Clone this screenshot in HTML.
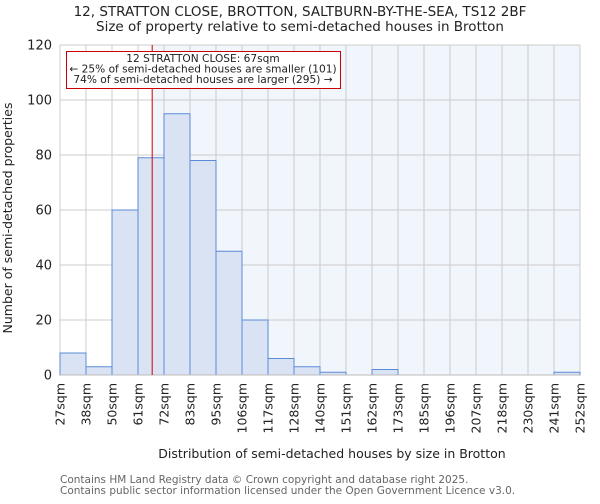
<!DOCTYPE html>
<html><head><meta charset="utf-8"><style>
body{margin:0;background:#fff;font-family:"DejaVu Sans","Liberation Sans",sans-serif;}
</style></head><body>
<svg width="600" height="500" xmlns="http://www.w3.org/2000/svg" font-family="DejaVu Sans, Liberation Sans, sans-serif">
<text x="300" y="12" text-anchor="middle" font-size="13.5" fill="#222" dominant-baseline="middle">12, STRATTON CLOSE, BROTTON, SALTBURN-BY-THE-SEA, TS12 2BF</text>
<text x="300" y="27" text-anchor="middle" font-size="13.5" fill="#222" dominant-baseline="middle">Size of property relative to semi-detached houses in Brotton</text>
<g id="plot"></g>
<text x="332" y="458" text-anchor="middle" font-size="12.5" fill="#222">Distribution of semi-detached houses by size in Brotton</text>
<text transform="translate(12,218) rotate(-90)" text-anchor="middle" font-size="12.5" fill="#222">Number of semi-detached properties</text>
<text x="60" y="483" font-size="10.5" fill="#666">Contains HM Land Registry data © Crown copyright and database right 2025.</text>
<text x="60" y="494" font-size="10.5" fill="#666">Contains public sector information licensed under the Open Government Licence v3.0.</text>
</svg>
<script>
const tickLabels=["27sqm","38sqm","50sqm","61sqm","72sqm","83sqm","95sqm","106sqm","117sqm","128sqm","140sqm","151sqm","162sqm","173sqm","185sqm","196sqm","207sqm","218sqm","230sqm","241sqm","252sqm"];
const counts=[8,3,60,79,95,78,45,20,6,3,1,0,2,0,0,0,0,0,0,1];
const yTicks=[0,20,40,60,80,100,120];
const propertyBinPos=3+6/11;
const NS="http://www.w3.org/2000/svg";
const X0=60,X1=580,Y0=375,Y1=45;
const bw=(X1-X0)/counts.length;
const xs=i=>X0+i*bw;
const ys=v=>Y0-(v/120)*(Y0-Y1);
const g=document.getElementById('plot');
function mk(t,a){const e=document.createElementNS(NS,t);for(const k in a)e.setAttribute(k,a[k]);g.appendChild(e);return e;}
const rx=xs(propertyBinPos);
let e=mk('rect',{x:X0,y:Y1,width:rx-X0,height:Y0-Y1,fill:'#ffffff'});


e=mk('rect',{x:rx,y:Y1,width:X1-rx,height:Y0-Y1,fill:'#f1f5fc'});


tickLabels.forEach((t,i)=>{
 const x=xs(i);
 let l=mk('line',{x1:x,x2:x,y1:Y1,y2:Y0,stroke:'#cccccc','stroke-width':1});
 
 
 let tx=mk('text',{transform:`translate(${x+4.5},${Y0+8}) rotate(-90)`,'text-anchor':'end','font-size':12.5,fill:'#222'});
 tx.textContent=t;
 
 
});
yTicks.forEach(v=>{
 const y=ys(v);
 let l=mk('line',{x1:X0,x2:X1,y1:y,y2:y,stroke:'#cccccc','stroke-width':1});
 
 
 let tx=mk('text',{x:X0-8,y:y+4.5,'text-anchor':'end','font-size':13,fill:'#222'});
 tx.textContent=v;
 
 
});
counts.forEach((c,i)=>{
 if(c<=0)return;
 let r=mk('rect',{x:xs(i),y:ys(c),width:bw,height:Y0-ys(c),fill:'#dae3f4',stroke:'#5b8bd6','stroke-width':1});
 
 
});
let ax=mk('line',{x1:X0,x2:X1,y1:Y0,y2:Y0,stroke:'#bbbbbb','stroke-width':1});


let rl=mk('line',{x1:rx,x2:rx,y1:Y1,y2:Y0,stroke:'#cc0000','stroke-width':1});


let box=mk('rect',{x:66.5,y:51.5,width:274,height:37,fill:'#fff',stroke:'#cc0000','stroke-width':1});


["12 STRATTON CLOSE: 67sqm","← 25% of semi-detached houses are smaller (101)","74% of semi-detached houses are larger (295) →"].forEach((s,i)=>{
 let t=mk('text',{x:203,y:62+i*10.5,'text-anchor':'middle','font-size':10.6,fill:'#222'});
 t.textContent=s;
 
 
});
</script>
</body></html>
